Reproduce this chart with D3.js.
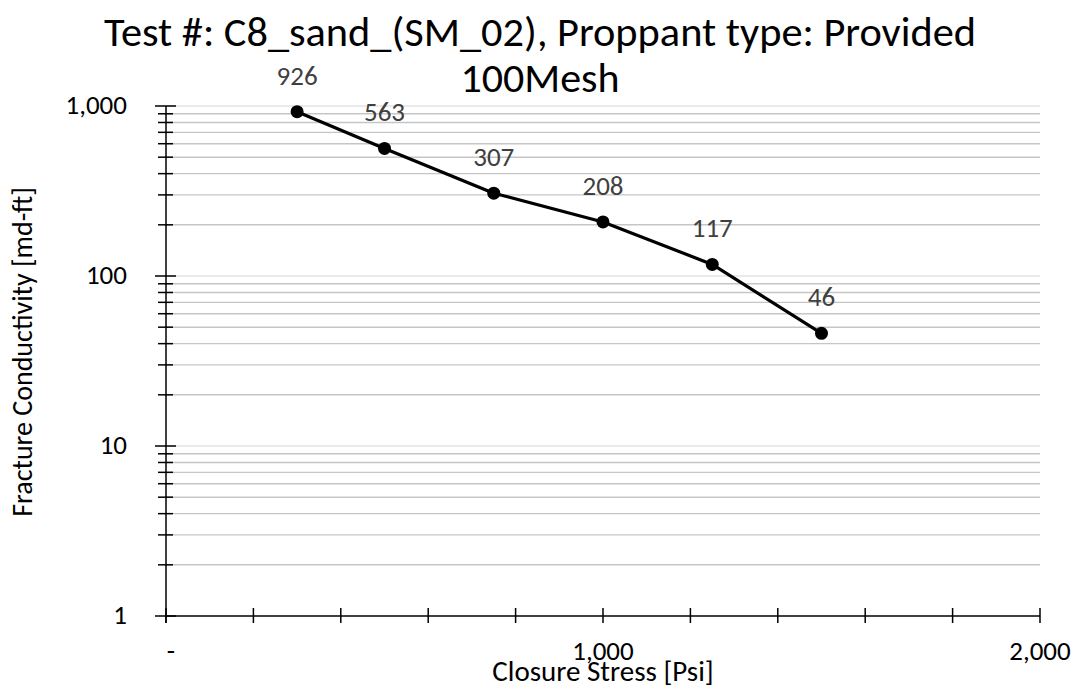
<!DOCTYPE html>
<html>
<head>
<meta charset="utf-8">
<script src="https://cdn.jsdelivr.net/npm/d3@7"></script>
<style>
  body { margin: 0; background: #fff; }
  svg { display: block; }
  text { font-family: Carlito, Calibri, Lato, "Open Sans", sans-serif; }
</style>
</head>
<body>
<svg id="chart" width="1081" height="694"></svg>
<script>
// Closure stress (psi) and measured fracture conductivity (md-ft)
const stress = [300, 500, 750, 1000, 1250, 1500];
const conductivity = [926, 563, 307, 208, 117, 46];

const xTickValues = [0, 200, 400, 600, 800, 1000, 1200, 1400, 1600, 1800, 2000];
const xTickLabels = { 0: "-", 1000: "1,000", 2000: "2,000" };
const yMajorTicks = [1, 10, 100, 1000];
const yTickLabels = ["1", "10", "100", "1,000"];

const titleLines = ["Test #: C8_sand_(SM_02), Proppant type: Provided", "100Mesh"];
const xTitle = "Closure Stress [Psi]";
const yTitle = "Fracture Conductivity [md-ft]";

const svg = d3.select("#chart");
const W = 1081, H = 694;
const margin = { left: 166, right: 41, top: 106, bottom: 78 };

const x = d3.scaleLinear().domain([0, 2000]).range([margin.left, W - margin.right]);
const y = d3.scaleLog().domain([1, 1000]).range([H - margin.bottom, margin.top]);

// minor log ticks (2..9 in every decade)
const yMinor = [];
for (let d = 1; d < 1000; d *= 10) for (let k = 2; k <= 9; k++) yMinor.push(d * k);

// horizontal gridlines
const grid = svg.append("g");
grid.selectAll("line.minor").data(yMinor).join("line")
  .attr("class", "minor")
  .attr("x1", x(0)).attr("x2", x(2000))
  .attr("y1", d => y(d)).attr("y2", d => y(d))
  .attr("stroke", "#c6c6c6").attr("stroke-width", 1.4);
grid.selectAll("line.major").data(yMajorTicks.filter(d => d > 1)).join("line")
  .attr("class", "major")
  .attr("x1", x(0)).attr("x2", x(2000))
  .attr("y1", d => y(d)).attr("y2", d => y(d))
  .attr("stroke", "#e3e3e3").attr("stroke-width", 1.4);

// y axis with crossing tick marks
const yAxisG = svg.append("g");
yAxisG.append("line")
  .attr("x1", x(0)).attr("x2", x(0))
  .attr("y1", y(1000)).attr("y2", y(1) + 7)
  .attr("stroke", "#000").attr("stroke-width", 1.5);
yAxisG.selectAll("line.ymaj").data(yMajorTicks).join("line")
  .attr("class", "ymaj")
  .attr("x1", x(0) - 11).attr("x2", x(0) + 10)
  .attr("y1", d => y(d)).attr("y2", d => y(d))
  .attr("stroke", "#000").attr("stroke-width", 1.5);
yAxisG.selectAll("line.ymin").data(yMinor).join("line")
  .attr("class", "ymin")
  .attr("x1", x(0) - 8).attr("x2", x(0) + 7)
  .attr("y1", d => y(d)).attr("y2", d => y(d))
  .attr("stroke", "#000").attr("stroke-width", 1.5);
yAxisG.selectAll("text").data(yMajorTicks).join("text")
  .attr("x", x(0) - 39).attr("y", d => y(d) + 8)
  .attr("text-anchor", "end")
  .attr("font-size", 27).attr("fill", "#000")
  .text((d, i) => yTickLabels[i]);

// x axis with crossing tick marks
const xAxisG = svg.append("g");
xAxisG.append("line")
  .attr("x1", x(0)).attr("x2", x(2000))
  .attr("y1", y(1)).attr("y2", y(1))
  .attr("stroke", "#000").attr("stroke-width", 1.5);
xAxisG.selectAll("line.xt").data(xTickValues).join("line")
  .attr("class", "xt")
  .attr("x1", d => x(d)).attr("x2", d => x(d))
  .attr("y1", y(1) - 8).attr("y2", y(1) + 7)
  .attr("stroke", "#000").attr("stroke-width", 1.5);
xAxisG.selectAll("text").data(xTickValues.filter(d => d in xTickLabels)).join("text")
  .attr("x", d => x(d) + (d === 0 ? 5 : 0)).attr("y", 660)
  .attr("text-anchor", "middle")
  .attr("font-size", 27).attr("fill", "#000")
  .text(d => xTickLabels[d]);

// axis titles
svg.append("text")
  .attr("x", x(1000)).attr("y", 681)
  .attr("text-anchor", "middle").attr("font-size", 29).attr("fill", "#000")
  .text(xTitle);
svg.append("text")
  .attr("transform", "translate(32, 352) rotate(-90)")
  .attr("text-anchor", "middle").attr("font-size", 28).attr("fill", "#000")
  .text(yTitle);

// chart title on two lines
svg.append("text")
  .attr("x", 540).attr("y", 46)
  .attr("text-anchor", "middle").attr("font-size", 42).attr("fill", "#000")
  .attr("textLength", 872).attr("lengthAdjust", "spacingAndGlyphs")
  .text(titleLines[0]);
svg.append("text")
  .attr("x", 540).attr("y", 92)
  .attr("text-anchor", "middle").attr("font-size", 42).attr("fill", "#000")
  .text(titleLines[1]);

// data series: line with filled markers
const pts = stress.map((s, i) => ({ s, c: conductivity[i] }));
svg.append("path").datum(pts)
  .attr("fill", "none").attr("stroke", "#000").attr("stroke-width", 3.2)
  .attr("stroke-linejoin", "round")
  .attr("d", d3.line().x(d => x(d.s)).y(d => y(d.c)));
svg.selectAll("circle.pt").data(pts).join("circle")
  .attr("class", "pt")
  .attr("cx", d => x(d.s)).attr("cy", d => y(d.c)).attr("r", 6.5)
  .attr("fill", "#000");

// value labels above each point
svg.selectAll("text.val").data(pts).join("text")
  .attr("class", "val")
  .attr("x", d => x(d.s))
  .attr("y", d => y(d.c) - 27)
  .attr("text-anchor", "middle")
  .attr("font-size", 27).attr("fill", "#404040")
  .text(d => d.c);
</script>
</body>
</html>
